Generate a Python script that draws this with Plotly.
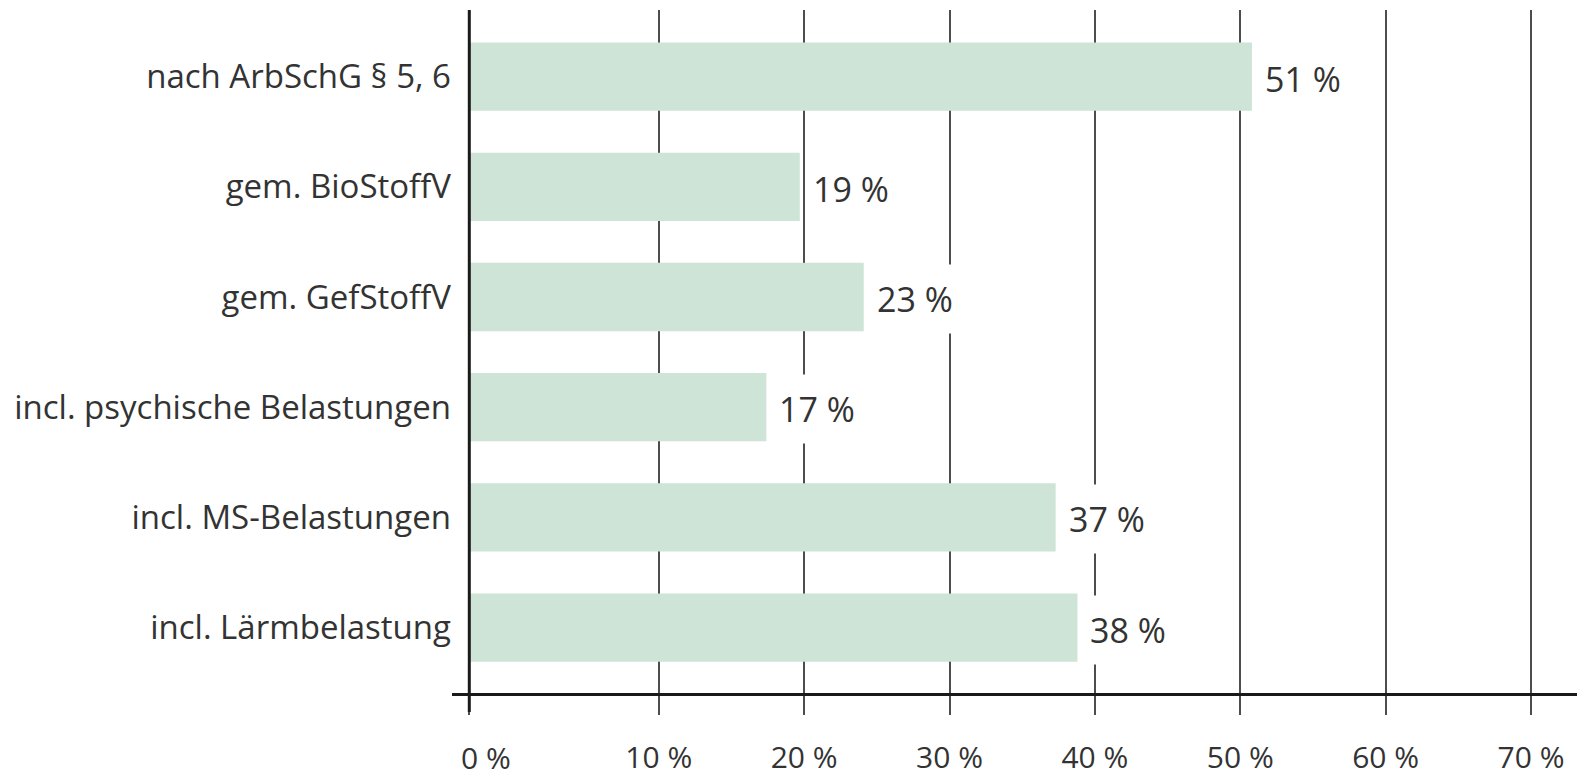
import plotly.graph_objects as go

# ---- data ----
categories = [
    "nach ArbSchG § 5, 6",
    "gem. BioStoffV",
    "gem. GefStoffV",
    "incl. psychische Belastungen",
    "incl. MS-Belastungen",
    "incl. Lärmbelastung",
]
values = [50.8, 19.7, 24.1, 17.4, 37.3, 38.8]
value_labels = ["51 %", "19 %", "23 %", "17 %", "37 %", "38 %"]
grid_values = [10, 20, 30, 40, 50, 60, 70]
grid_labels = ["10 %", "20 %", "30 %", "40 %", "50 %", "60 %", "70 %"]
origin_label = "0 %"

# ---- styling / layout constants ----
AXIS_ORIGIN = -3.03          # position of the drawn "0 %" baseline on the axis
X_RANGE = [-4.22, 73.71]
Y_RANGE = [5.594, -0.605]
BAR_COLOR = "#cde4d7"
GRID_COLOR = "#4d4d4d"
AXIS_COLOR = "#1a1a1a"
TEXT_COLOR = "#333333"
FONT = "Open Sans"
TICK_FS = 30

fig = go.Figure()
fig.add_trace(go.Bar(
    y=categories,
    x=[v - AXIS_ORIGIN for v in values],
    base=AXIS_ORIGIN,
    orientation="h",
    marker=dict(color=BAR_COLOR, line=dict(width=0)),
    width=0.62,
    hoverinfo="skip",
))

annotations = []
for cat, v, lab in zip(categories, values, value_labels):
    annotations.append(dict(
        x=v, y=cat, xref="x", yref="y",
        text=lab, showarrow=False,
        xanchor="left", yanchor="middle", xshift=10, yshift=-2,
        bgcolor="white", height=64, borderpad=2,
        font=dict(family=FONT, size=34, color=TEXT_COLOR),
    ))
# "0 %" label sits slightly right of the baseline in the original
annotations.append(dict(
    x=AXIS_ORIGIN, y=0, xref="x", yref="paper",
    text=origin_label, showarrow=False,
    xanchor="center", yanchor="middle", xshift=17, yshift=-64,
    font=dict(family=FONT, size=TICK_FS, color=TEXT_COLOR),
))

fig.update_layout(
    width=1577, height=767,
    margin=dict(l=444, r=0, t=2, b=82),
    plot_bgcolor="white", paper_bgcolor="white",
    showlegend=False,
    annotations=annotations,
    shapes=[dict(
        type="line", xref="x", yref="paper",
        x0=AXIS_ORIGIN, x1=AXIS_ORIGIN, y0=-0.0278, y1=1,
        line=dict(color=AXIS_COLOR, width=3), layer="above",
    )],
    xaxis=dict(
        range=X_RANGE,
        tickmode="array",
        tickvals=[AXIS_ORIGIN] + grid_values,
        ticktext=[""] + grid_labels,
        showgrid=True, gridcolor=GRID_COLOR, gridwidth=2,
        ticks="outside", ticklen=19, tickwidth=2, tickcolor=GRID_COLOR,
        showline=True, linecolor=AXIS_COLOR, linewidth=3,
        zeroline=False, automargin=False,
        tickfont=dict(family=FONT, size=TICK_FS, color=TEXT_COLOR),
        ticklabelstandoff=17,
        fixedrange=True,
    ),
    yaxis=dict(
        type="category",
        categoryorder="array", categoryarray=categories,
        range=Y_RANGE,
        showgrid=False, zeroline=False, showline=False,
        ticks="", automargin=False,
        tickfont=dict(family=FONT, size=33, color=TEXT_COLOR),
        fixedrange=True,
    ),
)

fig.write_html("out.html")
